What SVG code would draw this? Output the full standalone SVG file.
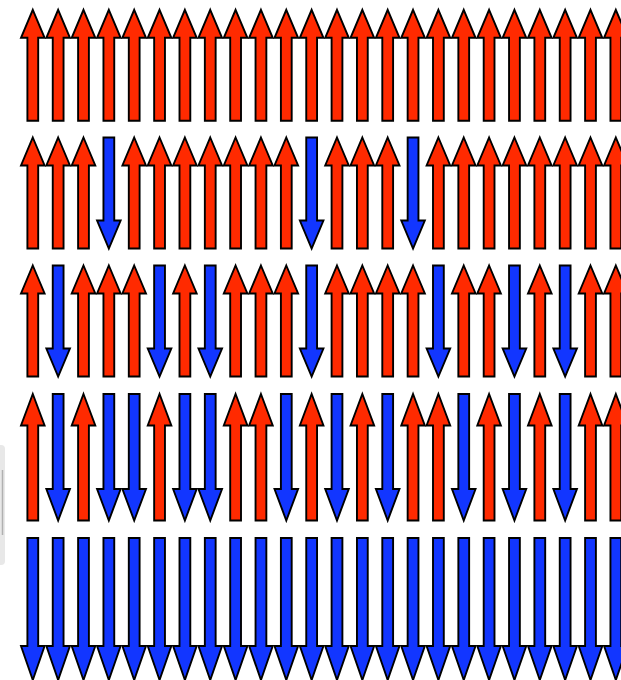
<svg xmlns="http://www.w3.org/2000/svg" width="621" height="680" viewBox="0 0 621 680">
<style>
.up{fill:#ff2a00;stroke:#000;stroke-width:1.9;stroke-linejoin:miter}
.dn{fill:#1236ff;stroke:#000;stroke-width:1.9;stroke-linejoin:miter}
</style>
<defs>
<path id="up1" d="M0,0 L11.8,28 L5.4,28 L5.4,111 L-5.4,111 L-5.4,28 L-11.8,28 Z"/>
<path id="dn1" d="M-5.4,0 L5.4,0 L5.4,83 L11.8,83 L0,111 L-11.8,83 L-5.4,83 Z"/>
<path id="up4" d="M0,0 L11.8,31.5 L5.4,31.5 L5.4,126.5 L-5.4,126.5 L-5.4,31.5 L-11.8,31.5 Z"/>
<path id="dn4" d="M-5.4,0 L5.4,0 L5.4,95 L11.8,95 L0,126.5 L-11.8,95 L-5.4,95 Z"/>
<path id="dn5" d="M-5.4,0 L5.4,0 L5.4,108 L11.8,108 L0,142 L-11.8,108 L-5.4,108 Z"/>
</defs>
<rect width="621" height="680" fill="#fff"/>
<g id="edge-artifact">
<rect x="-4" y="445" width="9" height="120" rx="4" fill="#e8e8e8"/>
<line x1="2.5" y1="470" x2="2.5" y2="535" stroke="#b0b0b0" stroke-width="1.5"/>
</g>
<g id="row1">
<use id="r1a0" href="#up1" class="up" transform="translate(32.8,9.8)"/>
<use id="r1a1" href="#up1" class="up" transform="translate(58.15,9.8)"/>
<use id="r1a2" href="#up1" class="up" transform="translate(83.5,9.8)"/>
<use id="r1a3" href="#up1" class="up" transform="translate(108.85,9.8)"/>
<use id="r1a4" href="#up1" class="up" transform="translate(134.2,9.8)"/>
<use id="r1a5" href="#up1" class="up" transform="translate(159.55,9.8)"/>
<use id="r1a6" href="#up1" class="up" transform="translate(184.9,9.8)"/>
<use id="r1a7" href="#up1" class="up" transform="translate(210.25,9.8)"/>
<use id="r1a8" href="#up1" class="up" transform="translate(235.6,9.8)"/>
<use id="r1a9" href="#up1" class="up" transform="translate(260.95,9.8)"/>
<use id="r1a10" href="#up1" class="up" transform="translate(286.3,9.8)"/>
<use id="r1a11" href="#up1" class="up" transform="translate(311.65,9.8)"/>
<use id="r1a12" href="#up1" class="up" transform="translate(337,9.8)"/>
<use id="r1a13" href="#up1" class="up" transform="translate(362.35,9.8)"/>
<use id="r1a14" href="#up1" class="up" transform="translate(387.7,9.8)"/>
<use id="r1a15" href="#up1" class="up" transform="translate(413.05,9.8)"/>
<use id="r1a16" href="#up1" class="up" transform="translate(438.4,9.8)"/>
<use id="r1a17" href="#up1" class="up" transform="translate(463.75,9.8)"/>
<use id="r1a18" href="#up1" class="up" transform="translate(489.1,9.8)"/>
<use id="r1a19" href="#up1" class="up" transform="translate(514.45,9.8)"/>
<use id="r1a20" href="#up1" class="up" transform="translate(539.8,9.8)"/>
<use id="r1a21" href="#up1" class="up" transform="translate(565.15,9.8)"/>
<use id="r1a22" href="#up1" class="up" transform="translate(590.5,9.8)"/>
<use id="r1a23" href="#up1" class="up" transform="translate(615.85,9.8)"/>
</g>
<g id="row2">
<use id="r2a0" href="#up1" class="up" transform="translate(32.8,137.5)"/>
<use id="r2a1" href="#up1" class="up" transform="translate(58.15,137.5)"/>
<use id="r2a2" href="#up1" class="up" transform="translate(83.5,137.5)"/>
<use id="r2a3" href="#dn1" class="dn" transform="translate(108.85,137.5)"/>
<use id="r2a4" href="#up1" class="up" transform="translate(134.2,137.5)"/>
<use id="r2a5" href="#up1" class="up" transform="translate(159.55,137.5)"/>
<use id="r2a6" href="#up1" class="up" transform="translate(184.9,137.5)"/>
<use id="r2a7" href="#up1" class="up" transform="translate(210.25,137.5)"/>
<use id="r2a8" href="#up1" class="up" transform="translate(235.6,137.5)"/>
<use id="r2a9" href="#up1" class="up" transform="translate(260.95,137.5)"/>
<use id="r2a10" href="#up1" class="up" transform="translate(286.3,137.5)"/>
<use id="r2a11" href="#dn1" class="dn" transform="translate(311.65,137.5)"/>
<use id="r2a12" href="#up1" class="up" transform="translate(337,137.5)"/>
<use id="r2a13" href="#up1" class="up" transform="translate(362.35,137.5)"/>
<use id="r2a14" href="#up1" class="up" transform="translate(387.7,137.5)"/>
<use id="r2a15" href="#dn1" class="dn" transform="translate(413.05,137.5)"/>
<use id="r2a16" href="#up1" class="up" transform="translate(438.4,137.5)"/>
<use id="r2a17" href="#up1" class="up" transform="translate(463.75,137.5)"/>
<use id="r2a18" href="#up1" class="up" transform="translate(489.1,137.5)"/>
<use id="r2a19" href="#up1" class="up" transform="translate(514.45,137.5)"/>
<use id="r2a20" href="#up1" class="up" transform="translate(539.8,137.5)"/>
<use id="r2a21" href="#up1" class="up" transform="translate(565.15,137.5)"/>
<use id="r2a22" href="#up1" class="up" transform="translate(590.5,137.5)"/>
<use id="r2a23" href="#up1" class="up" transform="translate(615.85,137.5)"/>
</g>
<g id="row3">
<use id="r3a0" href="#up1" class="up" transform="translate(32.8,265.5)"/>
<use id="r3a1" href="#dn1" class="dn" transform="translate(58.15,265.5)"/>
<use id="r3a2" href="#up1" class="up" transform="translate(83.5,265.5)"/>
<use id="r3a3" href="#up1" class="up" transform="translate(108.85,265.5)"/>
<use id="r3a4" href="#up1" class="up" transform="translate(134.2,265.5)"/>
<use id="r3a5" href="#dn1" class="dn" transform="translate(159.55,265.5)"/>
<use id="r3a6" href="#up1" class="up" transform="translate(184.9,265.5)"/>
<use id="r3a7" href="#dn1" class="dn" transform="translate(210.25,265.5)"/>
<use id="r3a8" href="#up1" class="up" transform="translate(235.6,265.5)"/>
<use id="r3a9" href="#up1" class="up" transform="translate(260.95,265.5)"/>
<use id="r3a10" href="#up1" class="up" transform="translate(286.3,265.5)"/>
<use id="r3a11" href="#dn1" class="dn" transform="translate(311.65,265.5)"/>
<use id="r3a12" href="#up1" class="up" transform="translate(337,265.5)"/>
<use id="r3a13" href="#up1" class="up" transform="translate(362.35,265.5)"/>
<use id="r3a14" href="#up1" class="up" transform="translate(387.7,265.5)"/>
<use id="r3a15" href="#up1" class="up" transform="translate(413.05,265.5)"/>
<use id="r3a16" href="#dn1" class="dn" transform="translate(438.4,265.5)"/>
<use id="r3a17" href="#up1" class="up" transform="translate(463.75,265.5)"/>
<use id="r3a18" href="#up1" class="up" transform="translate(489.1,265.5)"/>
<use id="r3a19" href="#dn1" class="dn" transform="translate(514.45,265.5)"/>
<use id="r3a20" href="#up1" class="up" transform="translate(539.8,265.5)"/>
<use id="r3a21" href="#dn1" class="dn" transform="translate(565.15,265.5)"/>
<use id="r3a22" href="#up1" class="up" transform="translate(590.5,265.5)"/>
<use id="r3a23" href="#up1" class="up" transform="translate(615.85,265.5)"/>
</g>
<g id="row4">
<use id="r4a0" href="#up4" class="up" transform="translate(32.8,394)"/>
<use id="r4a1" href="#dn4" class="dn" transform="translate(58.15,394)"/>
<use id="r4a2" href="#up4" class="up" transform="translate(83.5,394)"/>
<use id="r4a3" href="#dn4" class="dn" transform="translate(108.85,394)"/>
<use id="r4a4" href="#dn4" class="dn" transform="translate(134.2,394)"/>
<use id="r4a5" href="#up4" class="up" transform="translate(159.55,394)"/>
<use id="r4a6" href="#dn4" class="dn" transform="translate(184.9,394)"/>
<use id="r4a7" href="#dn4" class="dn" transform="translate(210.25,394)"/>
<use id="r4a8" href="#up4" class="up" transform="translate(235.6,394)"/>
<use id="r4a9" href="#up4" class="up" transform="translate(260.95,394)"/>
<use id="r4a10" href="#dn4" class="dn" transform="translate(286.3,394)"/>
<use id="r4a11" href="#up4" class="up" transform="translate(311.65,394)"/>
<use id="r4a12" href="#dn4" class="dn" transform="translate(337,394)"/>
<use id="r4a13" href="#up4" class="up" transform="translate(362.35,394)"/>
<use id="r4a14" href="#dn4" class="dn" transform="translate(387.7,394)"/>
<use id="r4a15" href="#up4" class="up" transform="translate(413.05,394)"/>
<use id="r4a16" href="#up4" class="up" transform="translate(438.4,394)"/>
<use id="r4a17" href="#dn4" class="dn" transform="translate(463.75,394)"/>
<use id="r4a18" href="#up4" class="up" transform="translate(489.1,394)"/>
<use id="r4a19" href="#dn4" class="dn" transform="translate(514.45,394)"/>
<use id="r4a20" href="#up4" class="up" transform="translate(539.8,394)"/>
<use id="r4a21" href="#dn4" class="dn" transform="translate(565.15,394)"/>
<use id="r4a22" href="#up4" class="up" transform="translate(590.5,394)"/>
<use id="r4a23" href="#up4" class="up" transform="translate(615.85,394)"/>
</g>
<g id="row5">
<use id="r5a0" href="#dn5" class="dn" transform="translate(32.8,538)"/>
<use id="r5a1" href="#dn5" class="dn" transform="translate(58.15,538)"/>
<use id="r5a2" href="#dn5" class="dn" transform="translate(83.5,538)"/>
<use id="r5a3" href="#dn5" class="dn" transform="translate(108.85,538)"/>
<use id="r5a4" href="#dn5" class="dn" transform="translate(134.2,538)"/>
<use id="r5a5" href="#dn5" class="dn" transform="translate(159.55,538)"/>
<use id="r5a6" href="#dn5" class="dn" transform="translate(184.9,538)"/>
<use id="r5a7" href="#dn5" class="dn" transform="translate(210.25,538)"/>
<use id="r5a8" href="#dn5" class="dn" transform="translate(235.6,538)"/>
<use id="r5a9" href="#dn5" class="dn" transform="translate(260.95,538)"/>
<use id="r5a10" href="#dn5" class="dn" transform="translate(286.3,538)"/>
<use id="r5a11" href="#dn5" class="dn" transform="translate(311.65,538)"/>
<use id="r5a12" href="#dn5" class="dn" transform="translate(337,538)"/>
<use id="r5a13" href="#dn5" class="dn" transform="translate(362.35,538)"/>
<use id="r5a14" href="#dn5" class="dn" transform="translate(387.7,538)"/>
<use id="r5a15" href="#dn5" class="dn" transform="translate(413.05,538)"/>
<use id="r5a16" href="#dn5" class="dn" transform="translate(438.4,538)"/>
<use id="r5a17" href="#dn5" class="dn" transform="translate(463.75,538)"/>
<use id="r5a18" href="#dn5" class="dn" transform="translate(489.1,538)"/>
<use id="r5a19" href="#dn5" class="dn" transform="translate(514.45,538)"/>
<use id="r5a20" href="#dn5" class="dn" transform="translate(539.8,538)"/>
<use id="r5a21" href="#dn5" class="dn" transform="translate(565.15,538)"/>
<use id="r5a22" href="#dn5" class="dn" transform="translate(590.5,538)"/>
<use id="r5a23" href="#dn5" class="dn" transform="translate(615.85,538)"/>
</g>
</svg>
